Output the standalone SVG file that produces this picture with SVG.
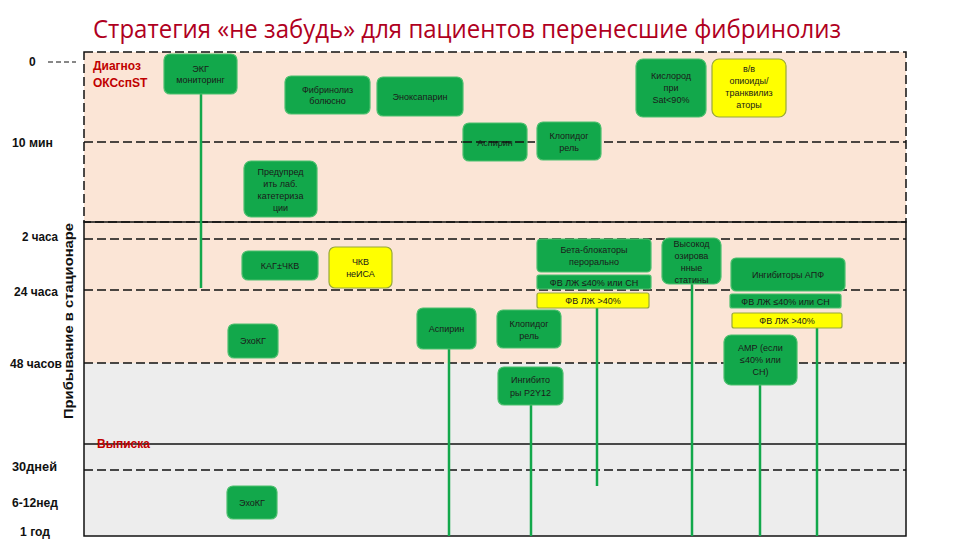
<svg xmlns="http://www.w3.org/2000/svg" width="960" height="540" viewBox="0 0 960 540">
<style>
.g{fill:#12a84b;stroke:#4cbf6e;stroke-width:1.2}
.y{fill:#ffff00;stroke:#98a83a;stroke-width:1.2}
.t{font-family:"Liberation Sans",Arial,sans-serif;font-size:9px;fill:#1a1a1a;text-anchor:middle}
.ax{font-family:"Liberation Sans",Arial,sans-serif;font-size:12px;font-weight:bold;fill:#111}
.red{font-family:"Liberation Sans",Arial,sans-serif;font-size:12px;font-weight:bold;fill:#c00000}
.dl{stroke:#111;stroke-width:1.5;stroke-dasharray:9,4;fill:none}
.sl{stroke:#111;stroke-width:1.5;fill:none}
.cn{stroke:#12a84b;stroke-width:2.5;fill:none}
</style>
<rect width="960" height="540" fill="#ffffff"/>
<!-- background panels -->
<g id="panels">
<rect x="84" y="52" width="822" height="311" fill="#fbe5d6"/>
<rect x="84" y="363" width="822" height="173" fill="#ededed"/>
<rect x="84" y="52" width="822" height="170" class="dl" stroke-width="1.2"/>
<rect x="84" y="222" width="822" height="314" class="sl" stroke-width="1.2"/>
<line x1="84" y1="142" x2="906" y2="142" class="dl"/>
<line x1="84" y1="239" x2="906" y2="239" class="dl"/>
<line x1="84" y1="290" x2="906" y2="290" class="dl"/>
<line x1="84" y1="363" x2="906" y2="363" class="dl"/>
<line x1="84" y1="444" x2="906" y2="444" class="sl" stroke-width="1.2"/>
<line x1="84" y1="470" x2="906" y2="470" class="dl"/>
<line x1="48" y1="62" x2="76" y2="62" stroke="#111" stroke-width="1" stroke-dasharray="5,3"/>
</g>
<!-- title -->
<text x="93" y="38" font-family="'Open Sans','Noto Sans',sans-serif" font-size="25" fill="#b0001e" textLength="748" lengthAdjust="spacingAndGlyphs">Стратегия «не забудь» для пациентов перенесшие фибринолиз</text>
<!-- axis labels -->
<g id="axis">
<text class="ax" x="29" y="66">0</text>
<text class="ax" x="12" y="147" textLength="41" lengthAdjust="spacingAndGlyphs">10 мин</text>
<text class="ax" x="22" y="241" textLength="36" lengthAdjust="spacingAndGlyphs">2 часа</text>
<text class="ax" x="14" y="296" textLength="44" lengthAdjust="spacingAndGlyphs">24 часа</text>
<text class="ax" x="10" y="368" textLength="52" lengthAdjust="spacingAndGlyphs">48 часов</text>
<text class="ax" x="12" y="471" textLength="45" lengthAdjust="spacingAndGlyphs">30дней</text>
<text class="ax" x="12" y="507" textLength="46" lengthAdjust="spacingAndGlyphs">6-12нед</text>
<text class="ax" x="20" y="536" textLength="30" lengthAdjust="spacingAndGlyphs">1 год</text>
<text class="ax" transform="translate(73,321) rotate(-90)" text-anchor="middle" textLength="196" lengthAdjust="spacingAndGlyphs">Прибывание в стационаре</text>
<text class="red" x="93" y="70">Диагноз</text>
<text class="red" x="93" y="87">ОКСспST</text>
<text class="red" x="97" y="448">Выписка</text>
</g>
<!-- connectors -->
<g id="connectors">
<line x1="201" y1="94" x2="201" y2="288" class="cn"/>
<line x1="449" y1="349" x2="449" y2="536" class="cn"/>
<line x1="531" y1="405" x2="531" y2="536" class="cn"/>
<line x1="597" y1="308" x2="597" y2="486" class="cn"/>
<line x1="692" y1="284" x2="692" y2="536" class="cn"/>
<line x1="760" y1="385" x2="760" y2="536" class="cn"/>
<line x1="817" y1="328" x2="817" y2="536" class="cn"/>
</g>
<!-- nodes -->
<g id="n-ekg"><rect class="g" x="164" y="54" width="73" height="40" rx="6"/><text class="t" x="200.5" y="72">ЭКГ</text><text class="t" x="200.5" y="83">мониторинг</text></g>
<g id="n-fibr"><rect class="g" x="285" y="76" width="85" height="38" rx="6"/><text class="t" x="327.5" y="93">Фибринолиз</text><text class="t" x="327.5" y="104">болюсно</text></g>
<g id="n-enox"><rect class="g" x="377" y="77" width="86" height="39" rx="6"/><text class="t" x="420" y="100">Эноксапарин</text></g>
<g id="n-asp1"><rect class="g" x="463" y="123" width="64" height="38" rx="6"/><text class="t" x="495" y="146">Аспирин</text><line x1="463" y1="142" x2="527" y2="142" class="dl"/></g>
<g id="n-clop1"><rect class="g" x="537" y="122" width="64" height="38" rx="6"/><text class="t" x="569" y="139">Клопидог</text><text class="t" x="569" y="151">рель</text></g>
<g id="n-oxy"><rect class="g" x="636" y="59" width="70" height="58" rx="7"/><text class="t" x="671" y="79">Кислород</text><text class="t" x="671" y="91">при</text><text class="t" x="671" y="103">Sat&lt;90%</text></g>
<g id="n-opi"><rect class="y" x="712" y="59" width="74" height="58" rx="7"/><text class="t" x="749" y="72">в/в</text><text class="t" x="749" y="84">опиоиды/</text><text class="t" x="749" y="96">транквилиз</text><text class="t" x="749" y="108">аторы</text></g>
<g id="n-warn"><rect class="g" x="244" y="161" width="73" height="56" rx="7"/><text class="t" x="280.5" y="175">Предупред</text><text class="t" x="280.5" y="187">ить лаб.</text><text class="t" x="280.5" y="199">катетериза</text><text class="t" x="280.5" y="211">ции</text></g>
<g id="n-kag"><rect class="g" x="242" y="251" width="76" height="29" rx="6"/><text class="t" x="280" y="269">КАГ±ЧКВ</text></g>
<g id="n-pci"><rect class="y" x="329" y="247" width="63" height="41" rx="6"/><text class="t" x="360.5" y="265">ЧКВ</text><text class="t" x="360.5" y="277">неИСА</text></g>
<g id="n-beta"><rect class="g" x="537" y="239" width="114" height="33" rx="4"/><text class="t" x="594" y="253">Бета-блокаторы</text><text class="t" x="594" y="265">перорально</text></g>
<g id="n-beta-le"><rect class="g" x="537" y="275" width="114" height="14" rx="2"/><text class="t" x="594" y="285.5">ФВ ЛЖ ≤40% или СН</text></g>
<g id="n-beta-gt"><rect class="y" x="537" y="293" width="112" height="15" rx="2"/><text class="t" x="593" y="304">ФВ ЛЖ &gt;40%</text></g>
<g id="n-stat"><rect class="g" x="662" y="238" width="59" height="46" rx="7"/><text class="t" x="691.5" y="247">Высокод</text><text class="t" x="691.5" y="259">озирова</text><text class="t" x="691.5" y="271">нные</text><text class="t" x="691.5" y="283">статины</text></g>
<g id="n-ace"><rect class="g" x="731" y="258" width="114" height="33" rx="5"/><text class="t" x="788" y="278">Ингибиторы АПФ</text></g>
<g id="n-ace-le"><rect class="g" x="730" y="294" width="111" height="14" rx="2"/><text class="t" x="785.5" y="304.5">ФВ ЛЖ ≤40% или СН</text></g>
<g id="n-ace-gt"><rect class="y" x="732" y="313" width="110" height="15" rx="2"/><text class="t" x="787" y="324">ФВ ЛЖ &gt;40%</text></g>
<g id="n-amr"><rect class="g" x="724" y="335" width="73" height="50" rx="7"/><text class="t" x="760.5" y="351">АМР (если</text><text class="t" x="760.5" y="363">≤40% или</text><text class="t" x="760.5" y="375">СН)</text></g>
<g id="n-echo1"><rect class="g" x="228" y="324" width="50" height="34" rx="6"/><text class="t" x="253" y="344">ЭхоКГ</text></g>
<g id="n-asp2"><rect class="g" x="417" y="308" width="59" height="41" rx="6"/><text class="t" x="446.5" y="332">Аспирин</text></g>
<g id="n-clop2"><rect class="g" x="497" y="310" width="64" height="38" rx="6"/><text class="t" x="529" y="327">Клопидог</text><text class="t" x="529" y="339">рель</text></g>
<g id="n-p2y12"><rect class="g" x="498" y="367" width="65" height="38" rx="6"/><text class="t" x="530.5" y="383">Ингибито</text><text class="t" x="530.5" y="396">ры P2Y12</text></g>
<g id="n-echo2"><rect class="g" x="227" y="486" width="50" height="33" rx="6"/><text class="t" x="252" y="506">ЭхоКГ</text></g>
</svg>
